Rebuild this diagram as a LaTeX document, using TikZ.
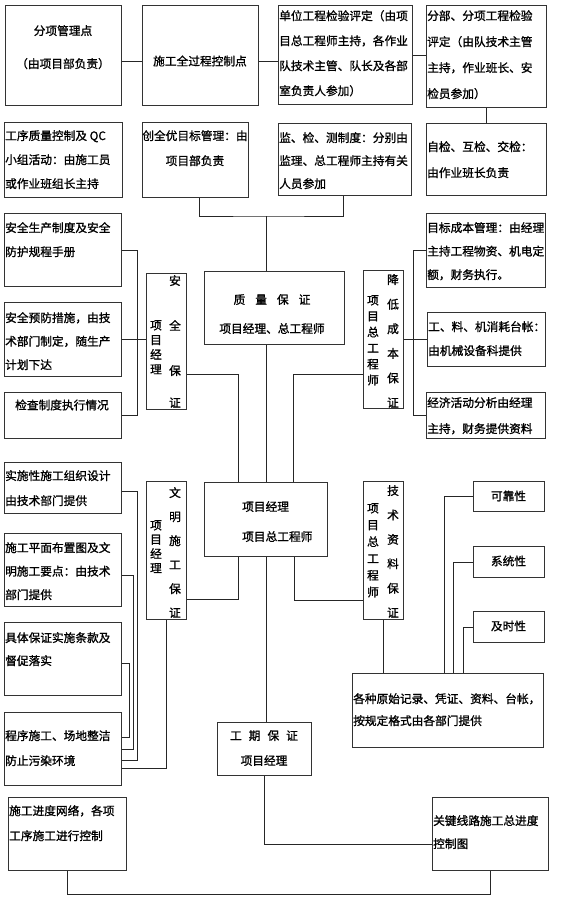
\documentclass[tikz,border=0pt]{standalone}
\usepackage{fontspec}
\setmainfont{Noto Sans CJK SC}[AutoFakeBold=1.2]
\newcommand{\chgap}[1]{\hspace{#1pt}}
\begin{document}
\begin{tikzpicture}[x=1pt,y=-1pt,
  box/.style={draw=black!80,line width=1pt,anchor=north west,inner sep=0pt},
  sz/.style 2 args={minimum width=#1pt,minimum height=#2pt},
  txt/.style={font=\fontsize{11.7}{#1}\selectfont\bfseries,inner sep=0pt,align=left,anchor=north west},
  txt/.default=24,
  ctxt/.style={txt=#1,align=center,anchor=north},
  ctxt/.default=24,
  line/.style={line width=0.8pt,draw=black!85}]
\useasboundingbox (0,0) rectangle (560,905);
\node[box,sz={116}{100}] (fx) at (5,5) {};
\node[ctxt=33] (fx-t) at (63,25) {分项管理点\\（由项目部负责）};
\node[box,sz={116}{100}] (sg) at (142,5) {};
\node[txt,anchor=center] (sg-t) at (200,61) {施工全过程控制点};
\node[box,sz={134}{99}] (dw) at (278,5) {};
\node[txt=25] (dw-t) at (279,10) {单位工程检验评定（由项\\目总工程师主持，各作业\\队技术主管、队长及各部\\室负责人参加）};
\node[box,sz={120}{102}] (fb) at (426,5) {};
\node[txt=26] (fb-t) at (427,10) {分部、分项工程检验\\评定（由队技术主管\\主持，作业班长、安\\检员参加）};
\node[box,sz={118}{75}] (gx) at (4,122) {};
\node[txt] (gx-t) at (5,130) {工序质量控制及 QC\\小组活动：由施工员\\或作业班组长主持};
\node[box,sz={106}{75}] (cq) at (142,122) {};
\node[ctxt=25] (cq-t) at (195,130) {创全优目标管理：由\\项目部负责};
\node[box,sz={133}{72}] (jc) at (278,123) {};
\node[txt=23] (jc-t) at (279,132) {监、检、测制度：分别由\\监理、总工程师主持有关\\人员参加};
\node[box,sz={120}{72}] (zj) at (426,123) {};
\node[txt=26] (zj-t) at (427,141) {自检、互检、交检：\\由作业班长负责};
\node[box,sz={117}{73}] (aq1) at (4,213) {};
\node[txt] (aq1-t) at (5,222) {安全生产制度及安全\\防护规程手册};
\node[box,sz={117}{74}] (aq2) at (4,302) {};
\node[txt=23.5] (aq2-t) at (5,312) {安全预防措施，由技\\术部门制定，随生产\\计划下达};
\node[box,sz={117}{46}] (aq3) at (4,392) {};
\node[txt,anchor=center] (aq3-t) at (62,405) {检查制度执行情况};
\node[box,sz={40}{136}] (aqbz) at (146,273) {};
\node[ctxt=45] (aqbz-t) at (175,275) {安\\全\\保\\[-13pt]证};
\node[ctxt=14.7] (aqbz-r) at (156,320) {项\\目\\经\\理};
\node[box,sz={140}{73}] (zl) at (204,271) {};
\node[ctxt=29] (zl-t) at (272,294) {质\chgap{10}量\chgap{10}保\chgap{10}证\\项目经理、总工程师};
\node[box,sz={40}{138}] (jd) at (363,270) {};
\node[ctxt=24.6] (jd-t) at (393,274) {降\\低\\成\\本\\保\\证};
\node[ctxt=16] (jd-r) at (373,295) {项\\目\\总\\工\\程\\师};
\node[box,sz={119}{74}] (mb) at (426,213) {};
\node[txt=23.5] (mb-t) at (427,222) {目标成本管理：由经理\\主持工程物资、机电定\\额，财务执行。};
\node[box,sz={118}{54}] (gl) at (427,312) {};
\node[txt] (gl-t) at (428,321) {工、料、机消耗台帐：\\由机械设备科提供};
\node[box,sz={119}{46}] (jj) at (426,392) {};
\node[txt=26] (jj-t) at (427,397) {经济活动分析由经理\\主持，财务提供资料};
\node[box,sz={117}{51}] (ss) at (4,462) {};
\node[txt=25] (ss-t) at (5,470) {实施性施工组织设计\\由技术部门提供};
\node[box,sz={117}{73}] (sp) at (4,533) {};
\node[txt=23.5] (sp-t) at (5,542) {施工平面布置图及文\\明施工要点：由技术\\部门提供};
\node[box,sz={117}{73}] (jt) at (4,622) {};
\node[txt=23] (jt-t) at (5,632) {具体保证实施条款及\\督促落实};
\node[box,sz={117}{73}] (cx) at (4,712) {};
\node[txt=25] (cx-t) at (5,730) {程序施工、场地整洁\\防止污染环境};
\node[box,sz={40}{138}] (wm) at (146,481) {};
\node[ctxt] (wm-t) at (175,487) {文\\明\\施\\工\\保\\证};
\node[ctxt=14.3] (wm-r) at (156,520) {项\\目\\经\\理};
\node[box,sz={123}{74}] (xm) at (204,482) {};
\node[txt=30] (xm-t) at (242,501) {项目经理\\项目总工程师};
\node[box,sz={40}{138}] (js) at (363,481) {};
\node[ctxt=24.4] (js-t) at (393,485) {技\\术\\资\\料\\保\\证};
\node[ctxt=16.8] (js-r) at (373,503) {项\\目\\总\\工\\程\\师};
\node[box,sz={71}{30}] (kk) at (473,481) {};
\node[txt,anchor=center] (kk-t) at (508.5,496) {可靠性};
\node[box,sz={71}{31}] (xt) at (473,546) {};
\node[txt,anchor=center] (xt-t) at (508.5,561) {系统性};
\node[box,sz={71}{31}] (jsx) at (473,611) {};
\node[txt,anchor=center] (jsx-t) at (508.5,626) {及时性};
\node[box,sz={191}{74}] (gz) at (352,673) {};
\node[txt=22] (gz-t) at (353,693) {各种原始记录、凭证、资料、台帐，\\按规定格式由各部门提供};
\node[box,sz={94}{53}] (gq) at (217,722) {};
\node[ctxt=25] (gq-t) at (264,730) {工\chgap{7}期\chgap{7}保\chgap{7}证\\项目经理};
\node[box,sz={118}{73}] (sj) at (8,797) {};
\node[txt=25] (sj-t) at (9,805) {施工进度网络，各项\\工序施工进行控制};
\node[box,sz={116}{73}] (gj) at (432,797) {};
\node[txt=23] (gj-t) at (433,815) {关键线路施工总进度\\控制图};
\coordinate (qb) at (266,216);
\draw[line] ([yshift=-6pt]fx.east) -- ([yshift=-6pt]sg.west);
\draw[line] ([yshift=-6pt]sg.east) -- ([yshift=-6pt]sg.east -| dw.west);
\draw[line] (dw.east) -- (dw.east -| fb.west);
\draw[line] (fb.south) -- (fb.south |- zj.north);
\draw[line] ([xshift=4pt]cq.south) |- (qb) -| ([xshift=-1.5pt]jc.south);
\draw[line] (qb) -- (qb |- zl.north);
\draw[line] (aq1.east) -- ++(15,0) |- (aq3.east);
\draw[line] (aq2.east) -- (aq2.east -| aqbz.west);
\draw[line] ([yshift=-33pt]aqbz.east) -| ([xshift=-27.5pt]xm.north);
\draw[line] ([xshift=-8pt]zl.south) -- ([xshift=-8pt]zl.south |- xm.north);
\draw[line] (mb.west) -- ++(-13,0) |- (jj.west);
\draw[line] (jd.east) -- (jd.east -| gl.west);
\draw[line] ([yshift=-35pt]jd.west) -| ([xshift=27.5pt]xm.north);
\draw[line] ([yshift=-3.5pt]ss.east) -- ++(15,0) |- ([yshift=-11.5pt]cx.east);
\draw[line] ([yshift=-5.5pt]sp.east) -- ++(11,0) |- (cx.east);
\draw[line] ([yshift=-4.5pt]jt.east) -- ++(7,0) |- ([yshift=11.5pt]cx.east);
\draw[line] (wm.south) |- ([yshift=-19.5pt]cx.east);
\draw[line] ([yshift=-49pt]wm.east) -| ([xshift=-27.5pt]xm.south);
\draw[line] (xm.south) -- (xm.south |- gq.north);
\draw[line] ([xshift=28.5pt]xm.south) |- ([yshift=-50pt]js.west);
\draw[line] (js.south) -- (js.south |- gz.north);
\draw[line] (kk.west) -| ([xshift=-3.5pt]gz.north);
\draw[line] (xt.west) -| ([xshift=5.5pt]gz.north);
\draw[line] (jsx.west) -| ([xshift=15.5pt]gz.north);
\draw[line] (gq.south) |- ([yshift=-10.5pt]gj.west);
\draw[line] (sj.south) -- ++(0,23) -| (gj.south);
\end{tikzpicture}
\end{document}
